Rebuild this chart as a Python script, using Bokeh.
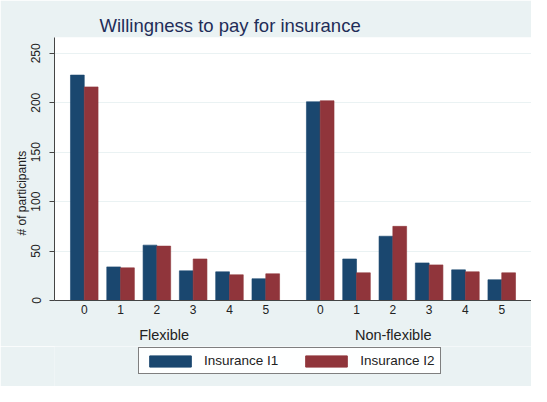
from bokeh.plotting import figure
from bokeh.models import (Range1d, FixedTicker, LinearAxis, Legend, LegendItem, Title)
from bokeh.layouts import column
from bokeh.embed import file_html
from bokeh.resources import INLINE

# ---- data ----
categories = ["0", "1", "2", "3", "4", "5"]
groups = ["Flexible", "Non-flexible"]
series_names = ["Insurance I1", "Insurance I2"]
i1_flexible = [228, 34, 56, 30, 29, 22]
i2_flexible = [216, 33, 55, 42, 26, 27]
i1_nonflexible = [201, 42, 65, 38, 31, 21]
i2_nonflexible = [202, 28, 75, 36, 29, 28]
y_ticks = [0, 50, 100, 150, 200, 250]

FONT = "Liberation Sans"
C1 = "#1A476F"
C2 = "#90353B"
BG = "#EAF2F3"
TXT = "#222222"

n = len(categories)
group_gap = 1.5
x_flex = [float(i) for i in range(n)]
x_non = [x + (n - 1) + group_gap for x in x_flex]
bw = 0.38

W = 531
p = figure(width=W, height=346, output_backend="svg", toolbar_location=None,
           x_range=Range1d(-0.82, x_non[-1] + 0.82), y_range=Range1d(0, 266),
           min_border_left=54, min_border_right=0, min_border_top=37,
           min_border_bottom=46)
p.background_fill_color = "white"
p.border_fill_color = BG
p.outline_line_color = None

xs_all = x_flex + x_non
i1_all = i1_flexible + i1_nonflexible
i2_all = i2_flexible + i2_nonflexible
r1 = p.vbar(x=[x - bw / 2 for x in xs_all], top=i1_all, width=bw, bottom=0,
            fill_color=C1, line_color=C1, line_alpha=0.6)
r2 = p.vbar(x=[x + bw / 2 for x in xs_all], top=i2_all, width=bw, bottom=0,
            fill_color=C2, line_color=C2, line_alpha=0.6)

# title
p.title.text = "Willingness to pay for insurance"
p.title.align = "left"
p.title.offset = 45
p.title.text_font = FONT
p.title.text_font_size = "18.5px"
p.title.text_font_style = "normal"
p.title.text_color = "#1f2d58"
p.title.standoff = 4

# grid
p.xgrid.visible = False
p.ygrid.ticker = FixedTicker(ticks=y_ticks)
p.ygrid.grid_line_color = BG
p.ygrid.grid_line_width = 1

# y axis
ya = p.yaxis[0]
ya.ticker = FixedTicker(ticks=y_ticks)
ya.major_label_orientation = "vertical"
ya.major_label_text_font = FONT
ya.major_label_text_font_size = "12px"
ya.major_label_text_color = TXT
ya.major_label_standoff = 9
ya.major_tick_out = 5
ya.major_tick_in = 0
ya.minor_tick_out = 0
ya.minor_tick_in = 0
ya.axis_line_color = "#444444"
ya.major_tick_line_color = "#444444"

ylab = Title(text="# of participants", align="left", offset=65, standoff=0,
             text_font=FONT, text_font_size="12px", text_font_style="normal",
             text_color=TXT)
p.add_layout(ylab, "left")

# x axis (category labels)
xa = p.xaxis[0]
xa.ticker = FixedTicker(ticks=xs_all)
xa.major_label_overrides = {x: c for x, c in zip(xs_all, categories + categories)}
xa.major_label_text_font = FONT
xa.major_label_text_font_size = "12px"
xa.major_label_text_color = TXT
xa.major_label_standoff = 4
xa.major_tick_out = 0
xa.major_tick_in = 0
xa.minor_tick_out = 0
xa.minor_tick_in = 0
xa.axis_line_color = "#444444"

# group labels axis
g_pos = [sum(x_flex) / n - 0.3, sum(x_non) / n - 0.49]
ga = LinearAxis(ticker=FixedTicker(ticks=g_pos),
                major_label_overrides={g_pos[0]: groups[0], g_pos[1]: groups[1]})
ga.axis_line_color = None
ga.major_tick_line_color = None
ga.minor_tick_line_color = None
ga.major_label_text_font = FONT
ga.major_label_text_font_size = "14.5px"
ga.major_label_text_color = TXT
ga.major_label_standoff = 4
p.add_layout(ga, "below")

# legend strip (its frame is aligned with the main plot's frame)
q = figure(width=W, height=40, output_backend="svg", toolbar_location=None,
           x_range=Range1d(0, 1), y_range=Range1d(0, 1),
           x_axis_location=None, y_axis_location=None, min_border=0)
q.background_fill_color = BG
q.border_fill_color = BG
q.outline_line_color = None
q.grid.visible = False
# off-screen swatch sources for the legend
d1 = q.vbar(x=[5], top=[1], width=0.1, fill_color=C1, line_color=C1)
d2 = q.vbar(x=[5], top=[1], width=0.1, fill_color=C2, line_color=C2)
legend = Legend(items=[LegendItem(label=series_names[0], renderers=[d1]),
                       LegendItem(label=series_names[1], renderers=[d2])],
                orientation="horizontal", location=(84, 12),
                glyph_width=52, glyph_height=14, label_standoff=8, spacing=22,
                padding=5, margin=0, border_line_color="black",
                border_line_width=1, background_fill_color="white",
                label_text_font=FONT, label_text_font_size="13.5px",
                label_text_color=TXT)
q.add_layout(legend, "center")

layout = column(p, q, spacing=0)
open("out.html", "w").write(file_html(layout, INLINE))
